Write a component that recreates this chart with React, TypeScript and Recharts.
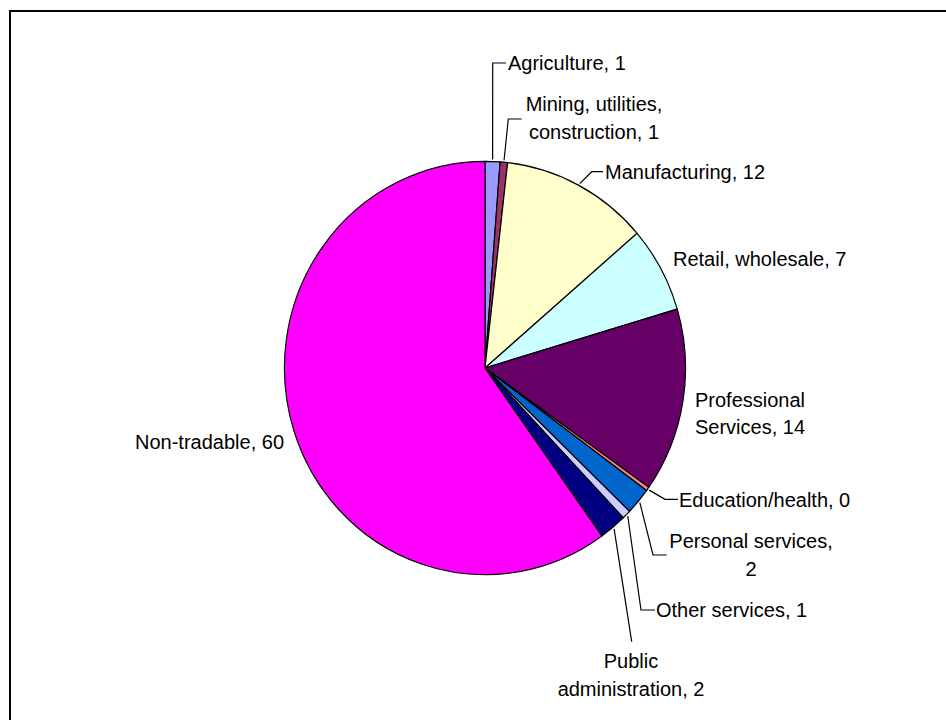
import React from 'react';
import { PieChart, Pie, Cell } from 'recharts';

// ---- data ----
const categories = [
  'Agriculture',
  'Mining, utilities, construction',
  'Manufacturing',
  'Retail, wholesale',
  'Professional Services',
  'Education/health',
  'Personal services',
  'Other services',
  'Public administration',
  'Non-tradable',
];
const shares = [1.2, 0.6, 11.9, 6.7, 14.4, 0.3, 2.1, 0.7, 2.2, 59.9];
// label text lines, {v} is replaced by the rounded value
const labelLines = [
  ['Agriculture, {v}'],
  ['Mining, utilities,', 'construction, {v}'],
  ['Manufacturing, {v}'],
  ['Retail, wholesale, {v}'],
  ['Professional', 'Services, {v}'],
  ['Education/health, {v}'],
  ['Personal services,', '{v}'],
  ['Other services, {v}'],
  ['Public', 'administration, {v}'],
  ['Non-tradable, {v}'],
];
const colors = [
  '#9999FF', '#993366', '#FFFFCC', '#CCFFFF', '#660066',
  '#FF8080', '#0066CC', '#CCCCFF', '#000080', '#FF00FF',
];

// ---- label layout (offsets from pie centre) ----
type Layout = { dx: number; dy: number; anchor: 'start' | 'middle' | 'end'; leader: number[][] | null };
const labelLayout: Layout[] = [
  { dx: 23, dy: -298, anchor: 'start', leader: [[7.7, -305], [21, -305]] },
  { dx: 109, dy: -257, anchor: 'middle', leader: [[23.3, -249], [36.7, -249]] },
  { dx: 120, dy: -189, anchor: 'start', leader: [[106.7, -196.3], [118, -196.3]] },
  { dx: 188, dy: -102, anchor: 'start', leader: null },
  { dx: 265, dy: 38.7, anchor: 'middle', leader: null },
  { dx: 194, dy: 138.5, anchor: 'start', leader: [[180, 131.3], [193, 131.3]] },
  { dx: 266, dy: 180.3, anchor: 'middle', leader: [[168, 187], [181.7, 187]] },
  { dx: 171, dy: 248.7, anchor: 'start', leader: [[156, 242], [170, 242]] },
  { dx: 146, dy: 300.3, anchor: 'middle', leader: [[146.7, 273.7]] },
  { dx: -201, dy: 81, anchor: 'end', leader: null },
];

const data = categories.map((name, i) => ({ name, value: shares[i] }));

const RAD = Math.PI / 180;
const LINE_H = 27.5;
const FONT = '"Liberation Sans", Arial, sans-serif';
const CX = 485;
const CY = 368;

const renderLabel = (props: any) => {
  const { cx, cy, midAngle, outerRadius, index, value } = props;
  const lay = labelLayout[index];
  const v = String(Math.round(value));
  const lines = labelLines[index].map((l) => l.replace('{v}', v));
  const r = outerRadius + 2;
  const sx = cx + r * 0.988 * Math.cos(-midAngle * RAD);
  const sy = cy + r * 1.018 * Math.sin(-midAngle * RAD);
  let path = '';
  if (lay.leader) {
    path = `M${sx},${sy}` + lay.leader.map((p) => ` L${cx + p[0]},${cy + p[1]}`).join('');
  }
  return (
    <g key={`lbl-${index}`}>
      {path && <path d={path} stroke="#000" strokeWidth={1.2} fill="none" />}
      <text
        x={cx + lay.dx}
        y={cy + lay.dy}
        textAnchor={lay.anchor}
        fontFamily={FONT}
        fontSize={20}
        fill="#000"
      >
        {lines.map((ln, j) => (
          <tspan key={j} x={cx + lay.dx} dy={j === 0 ? 0 : LINE_H}>
            {ln}
          </tspan>
        ))}
      </text>
    </g>
  );
};

export default function App() {
  return (
    <div
      style={{
        position: 'absolute',
        left: 0,
        top: 0,
        width: 946,
        height: 720,
        overflow: 'hidden',
        background: '#fff',
      }}
    >
      <style>{`.recharts-pie .recharts-sector { transform-origin: ${CX}px ${CY}px; transform: scale(0.988, 1.018); }`}</style>
      <div
        style={{
          position: 'absolute',
          left: 9,
          top: 10,
          width: 1000,
          height: 800,
          border: '2px solid #000',
          boxSizing: 'border-box',
        }}
      />
      <div style={{ position: 'absolute', left: 0, top: 0 }}>
        <PieChart width={946} height={720} margin={{ top: 0, right: 0, bottom: 0, left: 0 }}>
          <Pie
            data={data}
            dataKey="value"
            nameKey="name"
            cx={CX}
            cy={CY}
            outerRadius={203}
            startAngle={90}
            endAngle={-270}
            stroke="#000"
            strokeWidth={1.2}
            label={renderLabel}
            labelLine={false}
            isAnimationActive={false}
          >
            {data.map((d, i) => (
              <Cell key={d.name} fill={colors[i]} />
            ))}
          </Pie>
        </PieChart>
      </div>
    </div>
  );
}
